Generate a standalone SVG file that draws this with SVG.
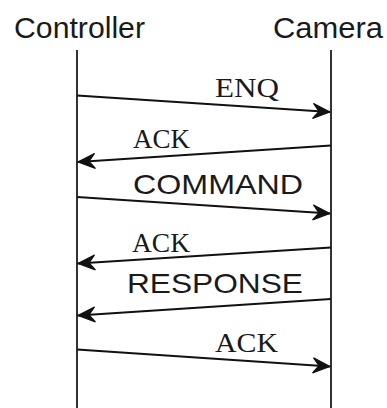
<svg xmlns="http://www.w3.org/2000/svg" width="387" height="408" viewBox="0 0 387 408">
  <defs>
    <style>
      .title { font-family: "Liberation Sans", Arial, sans-serif; font-size: 30px; fill: #1a1a1a; }
      .sans { font-family: "Liberation Sans", Arial, sans-serif; font-size: 28px; fill: #1a1a1a; }
      .serif { font-family: "Liberation Serif", "Times New Roman", serif; font-size: 27.5px; fill: #1a1a1a; }
      .life { stroke: #333; stroke-width: 2; fill: none; }
      .msg { stroke: #111; stroke-width: 2; fill: none; marker-end: url(#arrow); }
    </style>
    <marker id="arrow" markerUnits="userSpaceOnUse" markerWidth="24" markerHeight="20" viewBox="-18 -10 20 20" refX="0" refY="0" orient="auto">
      <path d="M0,0 L-17,-7.5 L-11,0 L-17,7.5 Z" fill="#111" stroke="#111" stroke-width="1.2" stroke-linejoin="miter"/>
    </marker>
  </defs>
  <rect width="387" height="408" fill="#ffffff"/>
  <g id="controller">
    <text class="title" x="14" y="38" textLength="131" lengthAdjust="spacingAndGlyphs">Controller</text>
    <line class="life" x1="77" y1="50" x2="77" y2="408"/>
  </g>
  <g id="camera">
    <text class="title" x="273" y="38" textLength="110" lengthAdjust="spacingAndGlyphs">Camera</text>
    <line class="life" x1="331" y1="50" x2="331" y2="408"/>
  </g>
  <g id="connectors">
    <line class="msg" x1="77" y1="95.5" x2="330" y2="112"/>
    <line class="msg" x1="331" y1="145.5" x2="78" y2="162"/>
    <line class="msg" x1="77" y1="197" x2="330" y2="213.5"/>
    <line class="msg" x1="331" y1="247.5" x2="78" y2="263.5"/>
    <line class="msg" x1="331" y1="299" x2="78" y2="315.5"/>
    <line class="msg" x1="77" y1="349.5" x2="330" y2="366.5"/>
  </g>
  <g id="labels">
    <text class="serif" x="215" y="97" textLength="64" lengthAdjust="spacingAndGlyphs">ENQ</text>
    <text class="serif" x="133" y="148" textLength="57" lengthAdjust="spacingAndGlyphs">ACK</text>
    <text class="sans" x="133" y="194" textLength="170" lengthAdjust="spacingAndGlyphs">COMMAND</text>
    <text class="serif" x="132" y="252" textLength="58" lengthAdjust="spacingAndGlyphs">ACK</text>
    <text class="sans" x="127" y="293" textLength="176" lengthAdjust="spacingAndGlyphs">RESPONSE</text>
    <text class="serif" x="215" y="352" textLength="63" lengthAdjust="spacingAndGlyphs">ACK</text>
  </g>
</svg>
